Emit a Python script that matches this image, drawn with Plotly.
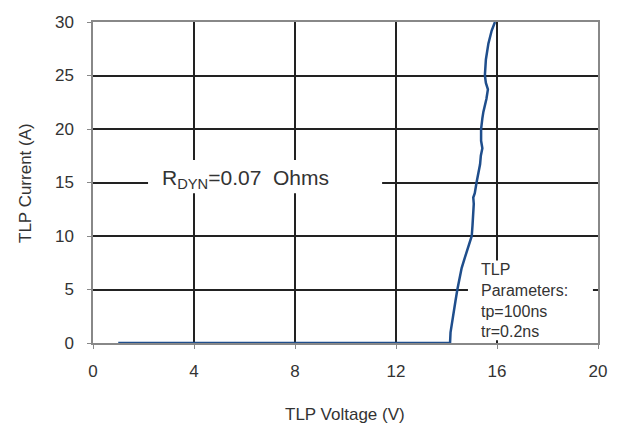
import plotly.graph_objects as go

# TLP I-V curve (voltage V, current A)
voltage = [1.0, 14.14, 14.16, 14.22, 14.27, 14.36, 14.43, 14.50, 14.60, 14.73, 14.86, 15.00,
           15.03, 15.05, 15.08, 15.06, 15.12, 15.19, 15.27, 15.33, 15.36, 15.42,
           15.37, 15.37, 15.42, 15.46, 15.58, 15.64, 15.56, 15.52, 15.56, 15.66, 15.79, 15.92]
current = [0.0, 0.0, 1, 2, 3, 4, 5, 6, 7, 8, 9, 10,
           11, 12, 13, 13.6, 14, 15, 16, 16.7, 17.5, 18.2,
           18.9, 20, 21, 21.6, 22.8, 23.7, 24.3, 25, 26.5, 28, 29.2, 30]

x_ticks = [0, 4, 8, 12, 16, 20]
y_ticks = [0, 5, 10, 15, 20, 25, 30]
x_title = "TLP Voltage (V)"
y_title = "TLP Current (A)"

fig = go.Figure()
fig.add_trace(go.Scatter(x=voltage, y=current, mode="lines",
                         line=dict(color="#1f4e8c", width=2.5), hoverinfo="skip"))

tick_font = dict(family="Liberation Sans, Arial, sans-serif", size=17, color="#333333")
title_font = dict(family="Liberation Sans, Arial, sans-serif", size=17, color="#333333")

fig.update_xaxes(range=[0, 20], tickvals=x_ticks, showgrid=True, gridcolor="#222222", gridwidth=1.5,
                 showline=True, linecolor="#888888", linewidth=1.5, mirror=True,
                 ticks="outside", ticklen=4, tickcolor="#888888", zeroline=False,
                 tickfont=tick_font, ticklabelstandoff=8, automargin=False)
fig.update_yaxes(range=[0, 30], tickvals=y_ticks, showgrid=True, gridcolor="#222222", gridwidth=1.5,
                 showline=True, linecolor="#888888", linewidth=1.5, mirror=True,
                 ticks="outside", ticklen=4, tickcolor="#888888", zeroline=False,
                 tickfont=tick_font, ticklabelstandoff=10, automargin=False)

# axis titles
fig.add_annotation(x=0.499, y=-0.224, xref="paper", yref="paper", xanchor="center", yanchor="middle",
                   text=x_title, showarrow=False, font=title_font)
fig.add_annotation(x=-0.135, y=0.498, xref="paper", yref="paper", xanchor="center", yanchor="middle",
                   text=y_title, showarrow=False, font=title_font, textangle=-90)

# white masks behind the annotations (hide grid lines)
fig.add_shape(type="rect", xref="x", yref="y", x0=2.18, x1=11.45, y0=14.0, y1=17.1,
              fillcolor="white", line=dict(width=0), layer="above")
fig.add_shape(type="rect", xref="x", yref="y", x0=14.85, x1=19.8, y0=0.25, y1=7.7,
              fillcolor="white", line=dict(width=0), layer="above")

fig.add_annotation(x=2.65, y=15.3, xref="x", yref="y", xanchor="left", yanchor="middle",
                   text="R<sub>DYN</sub>=0.07  Ohms", showarrow=False,
                   font=dict(family="Liberation Sans, Arial, sans-serif", size=21, color="#333333"))
fig.add_annotation(x=15.3, y=0.1, xref="x", yref="y", xanchor="left", yanchor="bottom",
                   text="TLP<br>Parameters:<br>tp=100ns<br>tr=0.2ns", showarrow=False, align="left",
                   font=dict(family="Liberation Sans, Arial, sans-serif", size=16, color="#333333"))

fig.update_layout(width=619, height=432, margin=dict(l=93, r=21, t=22, b=89),
                  plot_bgcolor="white", paper_bgcolor="white", showlegend=False)

fig.write_html("out.html")
